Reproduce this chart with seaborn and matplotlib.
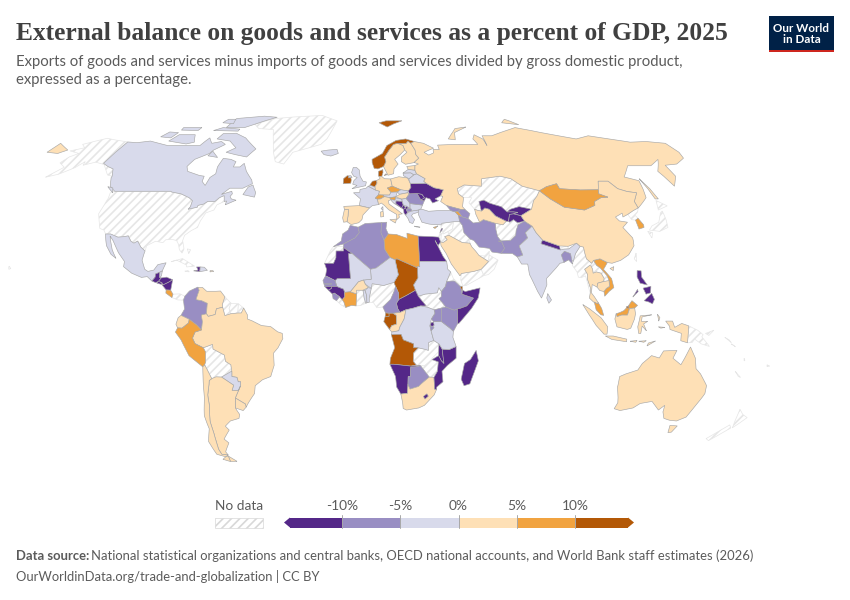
import numpy as np
import matplotlib
matplotlib.use("Agg")
import matplotlib.pyplot as plt
from matplotlib.patches import Polygon, Rectangle
import seaborn as sns

TITLE = "External balance on goods and services as a percent of GDP, 2025"
SUBTITLE = ["Exports of goods and services minus imports of goods and services divided by gross domestic product,",
            "expressed as a percentage."]
SOURCE_BOLD = "Data source:"
SOURCE = "National statistical organizations and central banks, OECD national accounts, and World Bank staff estimates (2026)"
FOOTER = "OurWorldinData.org/trade-and-globalization | CC BY"
BIN_HEX = ["#542788", "#998ec3", "#d8daeb", "#fee0b6", "#f1a340", "#b35806"]
TICK_LABELS = ["-10%", "-5%", "0%", "5%", "10%"]

# Robinson projection table: latitude, parallel length, parallel distance
ROB_LAT = [0, 5, 10, 15, 20, 25, 30, 35, 40, 45, 50, 55, 60, 65, 70, 75, 80, 85, 90]
ROB_PLEN = [1, .9986, .9954, .99, .9822, .973, .96, .9427, .9216, .8962, .8679, .835, .7986, .7597, .7186, .6732, .6213, .5722, .5322]
ROB_PDFE = [0, .062, .124, .186, .248, .31, .372, .434, .4958, .5571, .6176, .6769, .7346, .7903, .8435, .8936, .9394, .9761, 1]

# Value class of each country
CLASS_0 = ["Mauritania", "Guinea", "GuineaBissau", "Egypt", "CAR", "Somalia", "Mozambique", "Namibia", "Madagascar",
           "Lesotho", "Malawi", "Rwanda", "Guatemala", "Honduras", "ElSalvador", "Nicaragua", "Haiti", "Ukraine",
           "Moldova", "Bosnia", "Montenegro", "Albania", "Kosovo", "Lebanon", "Uzbekistan", "Kyrgyzstan", "Tajikistan",
           "Nepal", "Philippines"]
CLASS_1 = ["Morocco", "Algeria", "Tunisia", "Senegal", "Gambia", "SierraLeone", "Cameroon", "Ethiopia", "Uganda", "Kenya",
           "Burundi", "Botswana", "Colombia", "Romania", "NMacedonia", "Georgia", "Azerbaijan", "Iran", "Pakistan",
           "Bangladesh"]
CLASS_2 = ["Canada", "Mexico", "Belize", "DominicanRep", "Paraguay", "Mali", "Niger", "Sudan", "Togo", "Benin", "DRCongo",
           "Tanzania", "Iceland", "UK", "France", "Belgium", "Austria", "Slovakia", "Croatia", "Serbia", "Greece",
           "Bulgaria", "Belarus", "Lithuania", "Latvia", "Turkey", "India", "SriLanka"]
CLASS_3 = ["PuertoRico", "Venezuela", "Brazil", "Ecuador", "Uruguay", "Argentina", "Chile", "BurkinaFaso",
           "Congo", "SouthAfrica", "Sweden", "Finland", "Spain", "Portugal", "Germany", "Poland", "Italy", "Hungary",
           "Estonia", "Russia", "Saudi", "Turkmenistan", "China", "Thailand", "Cambodia", "Indonesia", "Australia"]
CLASS_4 = ["CostaRica", "Peru", "Libya", "CoteIvoire", "Czechia", "Switzerland", "Slovenia", "Cyprus", "Armenia",
           "Mongolia", "SouthKorea", "Vietnam", "Malaysia"]
CLASS_5 = ["Chad", "Gabon", "EqGuinea", "Angola", "Djibouti", "Norway", "Denmark", "Ireland", "Netherlands", "Brunei"]

NORTH_AMERICA = {
    "USA": [[(-124.7,48.4),(-123,49),(-95.2,49),(-94.6,48.7),(-89.6,48),(-84.8,46.5),(-82.5,45.3),(-82.4,43),(-83,42),(-79,42.8),(-79,43.5),(-76.5,44),(-75,45),(-71.5,45),(-70,46.5),(-68,47.3),(-67,45),(-70,43.7),(-70.7,41.7),(-74,40.6),(-75.5,37.5),(-76,35),(-78.5,33.8),(-81,32),(-81.3,30),(-80,26.8),(-80.5,25.2),(-82,26.5),(-82.8,28.5),(-84,30),(-86,30.4),(-89,30.3),(-90,29.2),(-93.5,29.7),(-97,28),(-97.2,26),(-99.5,27.5),(-101.5,29.8),(-103,29),(-104.5,29.7),(-106.5,31.8),(-108.2,31.5),(-111,31.3),(-114.8,32.5),(-117.1,32.5),(-118.5,34),(-120.6,34.6),(-122.5,37.5),(-124.3,40.3),(-124,44),(-124,46.3)],
            [(-141,69.6),(-141,60.3),(-137,59),(-133,58),(-130,55),(-133,55.5),(-137,58),(-140,59.8),(-146,60.8),(-151,59.5),(-152,61),(-154,58.5),(-159,55.8),(-164,54.6),(-160,58.7),(-165,60.5),(-164,63),(-161,64.5),(-168,65.6),(-162,67),(-166,68.5),(-156.5,71.3),(-150,70.5)],
            [(-156,20.2),(-155,19.3),(-155.8,19),(-156,19.8)]],
    "Canada": [[(-141,69.6),(-135,69.3),(-128,70),(-115,68),(-108,68),(-96,68),(-94,71.5),(-90,69),(-85,69.8),(-81.5,68.5),(-86,66),(-87,64.5),(-93,62),(-94.5,59),(-92.5,57),(-85,55.3),(-82.3,55),(-82,52.9),(-79.5,51.3),(-79,54.5),(-77,56),(-78,58.8),(-77.5,62.4),(-73,62),(-69.5,61),(-69.5,58.8),(-66,58.8),(-64.5,60.3),(-61.5,57),(-57,53.5),(-56,52),(-60,50.2),(-66.5,50.2),(-69.5,47.8),(-65,49),(-64.3,48),(-65,47),(-64,46),(-61.5,45.5),(-66,43.7),(-66,45.2),(-67,45),(-68,47.3),(-70,46.5),(-71.5,45),(-75,45),(-76.5,44),(-79,43.5),(-79,42.8),(-83,42),(-82.4,43),(-82.5,45.3),(-84.8,46.5),(-89.6,48),(-94.6,48.7),(-95.2,49),(-123,49),(-127,51),(-130,54.5),(-130,55),(-133,58),(-137,59),(-141,60.3)],
               [(-80,73.7),(-72,71.5),(-67,69),(-62,66.5),(-65,63),(-72,64),(-78,65),(-74,67),(-80,70),(-89,71),(-88,73.5)],
               [(-117,70),(-105,68.7),(-101,69.5),(-105,73),(-115,73)],
               [(-125,72),(-118,71.5),(-117,74),(-123,74.3)],
               [(-90,76.5),(-78,76.5),(-62,82.3),(-72,83),(-90,81.5)],
               [(-96,75),(-80,74.7),(-80,75.7),(-92,76.5)],
               [(-117,75.2),(-106,75),(-106,76.5),(-118,76.5)],
               [(-96,79),(-88,78.5),(-90,81),(-95,81)],
               [(-87,63.5),(-81,62.8),(-86,65.5)],
               [(-59,47.7),(-53,46.7),(-53,48.5),(-55.5,51.5),(-57.5,50.7)],
               [(-128,50.8),(-123.5,48.4),(-125,50.3)]],
    "Greenland": [[(-73,78.2),(-68,76),(-58,75.5),(-54,70),(-51,65),(-48,61),(-43,60),(-40,65),(-25,68.5),(-22,71),(-20,75),(-18,80),(-30,83.5),(-50,82.5),(-62,81.5),(-67,80)]],
    "Mexico": [[(-117.1,32.5),(-114.8,32.5),(-111,31.3),(-108.2,31.5),(-106.5,31.8),(-104.5,29.7),(-103,29),(-101.5,29.8),(-99.5,27.5),(-97.2,26),(-97.8,22.5),(-96,19),(-94.5,18.2),(-92,18.7),(-90.5,20.8),(-87,21.5),(-88.2,18.4),(-89.2,17.9),(-91,17.2),(-91,16),(-92.2,14.5),(-94.5,16.2),(-97,15.9),(-101.5,17.5),(-105.5,20),(-105.5,22),(-109,25.5),(-112.7,30),(-114.7,31.7),(-112,26.5),(-109.5,23.2),(-112,24.7),(-115,28)]],
    "Guatemala": [[(-92.2,14.5),(-91,16),(-91,17.2),(-89.2,17.9),(-89,15.9),(-88.3,15.7),(-89.3,14.4),(-90.5,13.9)]],
    "Belize": [[(-89.2,17.9),(-88.2,18.4),(-88.3,16.5),(-89,15.9)]],
    "ElSalvador": [[(-90,13.7),(-89.3,14.4),(-87.8,13.9),(-87.8,13.2)]],
    "Honduras": [[(-89.3,14.4),(-88.3,15.7),(-86,16),(-83.2,15),(-85,14),(-87.3,13),(-87.8,13.9)]],
    "Nicaragua": [[(-87.6,13),(-87.3,13),(-85,14),(-83.2,15),(-83.7,11),(-85.7,11.1)]],
    "CostaRica": [[(-85.7,11.1),(-83.7,11),(-82.6,9.5),(-83,8.2),(-85.7,9.9)]],
    "Panama": [[(-83,8.2),(-82.6,9.5),(-79.5,9.6),(-77.4,8.7),(-77.9,7.2),(-80.4,7.3),(-81.5,7.7)]],
    "Cuba": [[(-84.9,21.9),(-80,23.1),(-74.2,20.2),(-77.7,19.9),(-78,20.7),(-82.5,22.5)]],
    "Haiti": [[(-74.4,18.4),(-71.7,18.1),(-71.7,19.9),(-73.3,19.9),(-72.5,18.7)]],
    "DominicanRep": [[(-71.7,18.1),(-68.4,18.6),(-69.9,19.8),(-71.7,19.9)]],
    "Jamaica": [[(-78.3,18.3),(-76.3,18),(-76.9,18.5)]],
    "PuertoRico": [[(-67.2,18),(-65.6,18.2),(-66,18.5),(-67.2,18.5)]],
    "Bahamas": [[(-78.5,26.8),(-77,26.5),(-77.5,25)]],
}

SOUTH_AMERICA = {
    "Colombia": [[(-77.4,8.7),(-75.5,10.7),(-72,12.2),(-71.3,11),(-72.5,7.4),(-70,7),(-67.5,6),(-67.8,2),(-70,1.5),(-69.5,-1),(-70,-4.2),(-72,-2.3),(-75.2,-0.1),(-78.8,1.4),(-77.3,3.8),(-77.9,7.2)]],
    "Venezuela": [[(-71.3,11),(-71.9,12),(-70,12.1),(-68,10.6),(-64,10.6),(-62,10.7),(-60,8.5),(-61,5.5),(-60.8,4.5),(-63.5,3.9),(-64,1.7),(-67,1),(-67.8,2),(-67.5,6),(-70,7),(-72.5,7.4)]],
    "Guyana": [[(-60,8.5),(-57.2,6),(-58,4),(-57.3,2),(-59.8,1.3),(-60.8,4.5),(-61,5.5)]],
    "Suriname": [[(-57.2,6),(-54,5.8),(-54.2,2.3),(-57.3,2),(-58,4)]],
    "FrGuiana": [[(-54,5.8),(-51.7,4.2),(-52.7,2.3),(-54.2,2.3)]],
    "Brazil": [[(-51.7,4.2),(-50,1.5),(-50,0),(-48,-0.7),(-44,-2.5),(-40,-2.9),(-37,-4.9),(-35,-5.5),(-34.8,-7.5),(-37,-11),(-39,-13),(-39,-17.7),(-40.8,-22),(-44.5,-23.2),(-48,-25.5),(-48.7,-28.5),(-52,-32),(-53.4,-33.7),(-53.5,-32.5),(-57.6,-30.2),(-54.6,-25.6),(-54.3,-24),(-55.4,-24),(-55.8,-22.3),(-58,-22),(-57.8,-20),(-58,-17.5),(-60.2,-16.2),(-60.5,-13.8),(-65.3,-11.5),(-65.4,-9.7),(-69.5,-11),(-73,-9.4),(-74,-7.3),(-72.8,-5),(-70,-4.2),(-69.5,-1),(-70,1.5),(-67.8,2),(-67,1),(-64,1.7),(-63.5,3.9),(-60.8,4.5),(-59.8,1.3),(-57.3,2),(-54.2,2.3),(-52.7,2.3)]],
    "Ecuador": [[(-78.8,1.4),(-75.2,-0.1),(-75.5,-1.5),(-78.4,-3.5),(-80.3,-3.4),(-81,-2),(-80,0.5)]],
    "Peru": [[(-80.3,-3.4),(-78.4,-3.5),(-75.5,-1.5),(-75.2,-0.1),(-72,-2.3),(-70,-4.2),(-72.8,-5),(-74,-7.3),(-73,-9.4),(-69.5,-11),(-68.7,-12.5),(-69,-16.5),(-69.5,-17.5),(-70.4,-18.3),(-76,-14),(-79,-8),(-81.3,-5)]],
    "Bolivia": [[(-69.5,-11),(-65.4,-9.7),(-65.3,-11.5),(-60.5,-13.8),(-60.2,-16.2),(-58,-17.5),(-58,-20),(-62.6,-22.2),(-65,-22.1),(-67,-22.8),(-68.5,-19.5),(-69.5,-17.5),(-69,-16.5),(-68.7,-12.5)]],
    "Paraguay": [[(-58,-20),(-57.8,-20),(-58,-22),(-55.8,-22.3),(-55.4,-24),(-54.3,-24),(-54.6,-25.6),(-55.8,-27.4),(-58.6,-27.3),(-57.6,-25.3),(-62.6,-22.2)]],
    "Uruguay": [[(-57.6,-30.2),(-53.5,-32.5),(-53.4,-33.7),(-55,-35),(-58.4,-34)]],
    "Argentina": [[(-67,-22.8),(-65,-22.1),(-62.6,-22.2),(-57.6,-25.3),(-58.6,-27.3),(-55.8,-27.4),(-54.6,-25.6),(-57.6,-30.2),(-58.4,-34),(-57,-36.5),(-57.7,-38),(-62,-39),(-65,-41),(-63.7,-42.5),(-67.5,-46),(-65.8,-47.5),(-69,-51),(-68.4,-52.3),(-71.5,-52),(-72,-50),(-71.5,-44),(-71.5,-39),(-70,-33),(-69.8,-29),(-68.5,-25),(-68.2,-23.5)],
                  [(-68.6,-52.7),(-65.2,-54.8),(-68.6,-54.9)]],
    "Chile": [[(-69.5,-17.5),(-68.5,-19.5),(-67,-22.8),(-68.2,-23.5),(-68.5,-25),(-69.8,-29),(-70,-33),(-71.5,-39),(-71.5,-44),(-72,-50),(-71.5,-52),(-68.4,-52.3),(-70,-53),(-74,-52),(-75.5,-47),(-73,-42),(-73.5,-37),(-71.5,-30),(-70.4,-18.3)],
              [(-68.6,-52.7),(-68.6,-54.9),(-72,-54),(-70,-53)]],
}

AFRICA = {
    "Morocco": [[(-5.9,35.8),(-2.2,35.1),(-1.7,33),(-3.6,31),(-8.7,28.7),(-13.2,27.7),(-9.8,29.8),(-9.3,32.5),(-6.8,34)]],
    "WSahara": [[(-13.2,27.7),(-8.7,27.7),(-8.7,26),(-12,26),(-12,23.4),(-13,21.3),(-17,21.3),(-14.5,26.2)]],
    "Algeria": [[(-2.2,35.1),(1,36.5),(8.6,36.9),(8.2,33),(9.5,30.2),(9.8,26.5),(12,23.5),(5.8,19.5),(3.3,19),(-4.8,25),(-8.7,27.3),(-8.7,28.7),(-3.6,31),(-1.7,33)]],
    "Tunisia": [[(8.6,36.9),(11,37),(10.5,34.5),(11.5,32.5),(9.5,30.2),(8.2,33)]],
    "Libya": [[(11.5,32.5),(15.2,32.3),(20,30.8),(20,32.8),(25,31.7),(25,22),(25,20),(24,20),(24,19.5),(15,23),(14.2,22.6),(12,23.5),(9.8,26.5),(9.5,30.2)]],
    "Egypt": [[(25,31.7),(31,31.5),(34.3,31.3),(34.9,29.5),(33.6,28),(32.5,30),(35.5,24),(37,22),(25,22)]],
    "Sudan": [[(25,22),(37,22),(37.3,19),(38.5,18),(36.5,14.3),(36,12.5),(34.1,10.5),(33,12),(32.3,10),(27,9.5),(24,8.7),(22.8,11),(22,13),(24,15.7),(24,19.5),(24,20),(25,20)]],
    "SouthSudan": [[(24,8.7),(27,9.5),(32.3,10),(33,12),(34.1,10.5),(34,8.5),(33,7.8),(35.9,4.6),(34,4.2),(30.8,3.5),(28,4.5),(25,5),(27.4,5)]],
    "CAR": [[(14.5,6),(15.5,7.5),(18.8,9),(22.8,11),(24,8.7),(27.4,5),(25,5),(22,4.2),(18.6,3.5),(16,2.5),(15,4)]],
    "Chad": [[(15,23),(24,19.5),(24,15.7),(22,13),(22.8,11),(18.8,9),(15.5,7.5),(15.5,9.8),(14.2,12.5),(13.5,14),(15.5,16.9),(14.2,22.6)]],
    "Niger": [[(3.3,19),(5.8,19.5),(12,23.5),(14.2,22.6),(15.5,16.9),(13.5,14),(9,12.8),(4,13.5),(3.6,11.7),(1,13.3),(0.2,14.9),(3.6,15.2)]],
    "Mali": [[(-4.8,25),(3.3,19),(3.6,15.2),(0.2,14.9),(-2,14.2),(-5.5,10.4),(-8,10.2),(-8.5,11.4),(-11.4,12.4),(-12.2,14.7),(-11.2,15.5),(-5.5,15.5),(-6.5,25)]],
    "Mauritania": [[(-8.7,27.3),(-4.8,25),(-6.5,25),(-5.5,15.5),(-11.2,15.5),(-12.2,14.7),(-16.4,16.5),(-16,19),(-17,21.3),(-13,21.3),(-12,23.4),(-12,26),(-8.7,26)]],
    "Senegal": [[(-16.4,16.5),(-12.2,14.7),(-11.4,12.4),(-16.7,12.4),(-17.5,14.7)]],
    "Gambia": [[(-16.8,13.6),(-13.8,13.6),(-13.8,13.2),(-16.8,13.2)]],
    "GuineaBissau": [[(-16.7,12.4),(-13.7,12.4),(-13.7,11.7),(-15,11)]],
    "Guinea": [[(-13.7,12.4),(-11.4,12.4),(-8.5,11.4),(-8,10.2),(-7.9,8.5),(-9,7.4),(-10.2,8.5),(-12.5,9.9),(-13.3,9.5),(-15,11),(-13.7,11.7)]],
    "SierraLeone": [[(-13.3,9.5),(-12.5,9.9),(-10.2,8.5),(-11.5,7),(-13,7.8)]],
    "Liberia": [[(-11.5,7),(-10.2,8.5),(-9,7.4),(-8.3,6.5),(-7.5,4.4),(-9.5,5.4)]],
    "CoteIvoire": [[(-7.5,4.4),(-8.3,6.5),(-9,7.4),(-7.9,8.5),(-8,10.2),(-5.5,10.4),(-2.8,9.6),(-3,5),(-5,5.2)]],
    "BurkinaFaso": [[(-5.5,10.4),(-2,14.2),(0.2,14.9),(1,13.3),(2.3,12),(0,11),(-2.8,11),(-2.8,9.6)]],
    "Ghana": [[(-3,5),(-2.8,9.6),(-2.8,11),(0,11),(0.5,8),(1.2,6),(-1,5.2)]],
    "Togo": [[(0,11),(0.9,11),(1.6,9),(1.7,6.2),(1.2,6),(0.5,8)]],
    "Benin": [[(0.9,11),(2.3,12),(3.6,11.7),(2.7,8),(2.7,6.4),(1.7,6.2),(1.6,9)]],
    "Nigeria": [[(3.6,11.7),(4,13.5),(9,12.8),(13.5,14),(14.2,12.5),(13.5,10.5),(12,7.5),(8.6,4.6),(6,4.3),(4.5,6.3),(2.7,6.4),(2.7,8)]],
    "Cameroon": [[(8.6,4.6),(12,7.5),(13.5,10.5),(14.2,12.5),(15.5,9.8),(15.5,7.5),(14.5,6),(15,4),(16,2.5),(13,2.2),(9.8,2.3)]],
    "EqGuinea": [[(9.8,2.3),(11.3,2.2),(11.3,1),(9.6,1)]],
    "Gabon": [[(9.6,1),(11.3,1),(11.3,2.2),(13,2.2),(14.4,1.4),(14.5,-2),(12.5,-2.5),(11.5,-4),(9,-1)]],
    "Congo": [[(11.5,-4),(12.5,-2.5),(14.5,-2),(14.4,1.4),(13,2.2),(16,2.5),(18.6,3.5),(17.8,0),(16,-3),(15.5,-4.5),(12.5,-5)]],
    "DRCongo": [[(12.3,-6),(12.5,-5),(15.5,-4.5),(16,-3),(17.8,0),(18.6,3.5),(22,4.2),(25,5),(28,4.5),(30.8,3.5),(31.2,2.2),(29.6,0),(29,-2.5),(29.5,-4.5),(30.7,-8.2),(28.5,-9),(28.5,-12),(27,-11.6),(24,-11),(22,-11),(22,-9.5),(17.5,-8),(16.5,-5.9)]],
    "Angola": [[(12.3,-6),(16.5,-5.9),(17.5,-8),(22,-9.5),(22,-11),(24,-11),(22,-13),(22,-16.2),(23.4,-17.6),(21,-18),(13.5,-17.3),(11.8,-17.3),(12,-15),(13.8,-11),(13.2,-9)]],
    "Namibia": [[(11.8,-17.3),(13.5,-17.3),(21,-18),(25,-17.8),(23.4,-18.3),(21,-18.4),(21,-22),(20,-22),(20,-28.4),(17,-28.7),(15,-26),(14.4,-22)]],
    "Botswana": [[(20,-22),(21,-22),(21,-18.4),(23.4,-18.3),(25.2,-17.8),(29.3,-22.2),(26,-24.7),(24.7,-25.8),(21,-26.8),(20,-25)]],
    "SouthAfrica": [[(17,-28.7),(20,-28.4),(20,-25),(21,-26.8),(24.7,-25.8),(26,-24.7),(29.3,-22.2),(31.4,-22.3),(32,-26.8),(32.9,-26.9),(32,-29),(28,-33),(25.5,-34),(20,-34.8),(18.4,-34.2),(18,-32)]],
    "Lesotho": [[(27.2,-29.6),(28.7,-28.6),(29.4,-29.5),(28,-30.6)]],
    "Eswatini": [[(30.9,-25.7),(32,-26),(32,-27.2),(31,-27.3)]],
    "Zimbabwe": [[(25.2,-17.8),(27,-17.9),(30,-15.6),(33,-16.4),(32.8,-20),(31.4,-22.3),(29.3,-22.2)]],
    "Zambia": [[(22,-13),(24,-11),(27,-11.6),(28.5,-12),(28.5,-9),(30.7,-8.2),(33,-9.5),(33,-12.5),(30.2,-15),(30,-15.6),(27,-17.9),(25.2,-17.8),(23.4,-17.6),(22,-16.2)]],
    "Malawi": [[(33,-9.5),(34.5,-11.5),(35,-14.5),(35.5,-17),(34.3,-16),(33,-14),(33,-12.5)]],
    "Mozambique": [[(33,-14),(34.3,-16),(35.5,-17),(35,-14.5),(34.5,-11.5),(37.5,-11.7),(40.5,-10.5),(40.7,-15),(37,-17.8),(34.8,-20),(35.5,-24),(32.9,-26),(32.9,-26.9),(32,-26.8),(31.4,-22.3),(32.8,-20),(33,-16.4),(30.2,-15.5)]],
    "Tanzania": [[(30.7,-8.2),(29.5,-4.5),(30.5,-3),(30.5,-1),(34,-1),(37.7,-3.5),(39.2,-4.7),(39,-7),(40.5,-10.5),(37.5,-11.7),(34.5,-11.5),(33,-9.5)]],
    "Kenya": [[(34,4.2),(35.9,4.6),(39.5,3.4),(41,3.9),(41,-1.7),(39.2,-4.7),(37.7,-3.5),(34,-1)]],
    "Uganda": [[(31.2,2.2),(30.8,3.5),(34,4.2),(34,-1),(30.5,-1),(29.6,0)]],
    "Rwanda": [[(29,-2.5),(29.6,-1.3),(30.5,-1.2),(30.8,-2.4),(30,-2.8)]],
    "Burundi": [[(29,-2.7),(30,-2.8),(30.8,-3.3),(29.5,-4.5)]],
    "Ethiopia": [[(36.5,14.3),(38.5,14.5),(40,14.5),(42.3,12.5),(43,11),(43,9.5),(48,8),(45,5),(41.9,4),(41,3.9),(39.5,3.4),(35.9,4.6),(33,7.8),(34,8.5),(34.1,10.5),(36,12.5)]],
    "Eritrea": [[(38.5,18),(39.5,15.5),(43,12.5),(42.3,12.5),(40,14.5),(38.5,14.5),(36.5,14.3)]],
    "Djibouti": [[(42.3,12.5),(43.3,12.4),(43.3,11),(43,11)]],
    "Somalia": [[(43.3,11),(44.5,10.5),(51,11.9),(50,8),(47,4),(41.5,-1.7),(41,-1.7),(41,3.9),(41.9,4),(45,5),(48,8),(43,9.5)]],
    "Madagascar": [[(49.3,-12),(50.5,-16),(47.5,-24.8),(45,-25.5),(43.5,-23),(44.5,-17),(47,-15.5)]],
}

EUROPE = {
    "Finland": [[(20.5,69),(25.7,69),(27,70),(28.5,69),(30,66),(29.8,64),(31,62.5),(27.8,60.6),(23,59.9),(21,61),(21.5,63),(25,65),(24,66),(23.5,68)]],
    "Sweden": [[(11,59),(13,55.4),(16,56),(16.5,58),(19,60),(17.5,62),(21,64),(24,66),(23.5,68),(20.5,69),(18,68.5),(15,66),(12,63),(12.5,61)]],
    "Norway": [[(5,60.5),(6,58.2),(8,58),(11,59),(12.5,61),(12,63),(15,66),(18,68.5),(20.5,69),(25.7,69),(27,70),(28.5,69),(30.8,69.8),(26,71),(20,70.3),(14,68),(11,64.5),(5,62)],
               [(11,79),(16,76.8),(21,78.5),(27,80),(16,80)]],
    "Iceland": [[(-24,65.5),(-22,64),(-18,63.4),(-14,64.5),(-15,66.3),(-20,66)]],
    "Denmark": [[(8,55),(9.7,54.9),(10.5,56.5),(10.5,57.7),(8.2,57)],[(11,55.3),(12.6,55.6),(12,56)]],
    "Ireland": [[(-10,52),(-6.2,52.2),(-6,53.5),(-6.5,55),(-8.2,55.2),(-10,54)]],
    "UK": [[(-5.5,50),(1.3,51.2),(1.7,52.7),(0,53),(-1.5,55),(-2,57.6),(-3.5,58.6),(-5.2,58.6),(-6,56.5),(-4.8,55),(-3,54.5),(-4.6,53.3),(-5.2,51.8),(-3,51.3)],
           [(-7.5,54.3),(-5.6,54.5),(-6.3,55.2),(-7.4,55.1)]],
    "France": [[(-1.8,43.4),(3.1,42.5),(4.5,43.4),(7.5,43.8),(7,45.9),(6,46.3),(7.6,47.6),(8.2,49),(6.2,49.5),(2.6,51),(1.5,50.2),(-1.5,49.7),(-1.6,48.6),(-4.7,48.4),(-1.2,46)],
               [(8.6,42.3),(9.5,41.5),(9.5,43)]],
    "Spain": [[(-9.2,43.1),(-1.8,43.4),(3.1,42.5),(0,39.8),(-0.5,38),(-2,36.8),(-5.5,36.1),(-7.4,37.2),(-7,39.5),(-6.9,41.9),(-8.8,41.9)]],
    "Portugal": [[(-8.8,41.9),(-6.9,41.9),(-7,39.5),(-7.4,37.2),(-9,37),(-9.5,38.7)]],
    "Belgium": [[(2.6,51),(4.3,51.4),(6,50.8),(6.2,49.5)]],
    "Netherlands": [[(3.4,51.4),(6,50.8),(7.1,52.2),(7,53.3),(4.8,53)]],
    "Germany": [[(6,50.8),(7.1,52.2),(7,53.3),(8.7,54),(8.6,54.9),(9.7,54.9),(11,54),(14.2,53.9),(14.7,51),(12.2,50.3),(13.8,48.6),(13,47.5),(7.6,47.6),(8.2,49),(6.2,49.5)]],
    "Poland": [[(14.2,53.9),(18.5,54.8),(23,54.3),(24,52),(24,50.5),(22.5,49.1),(19,49.5),(14.7,51)]],
    "Czechia": [[(12.2,50.3),(14.7,51),(18.8,49.6),(17,48.7),(13.8,48.6)]],
    "Slovakia": [[(17,48.7),(18.8,49.6),(22.5,49.1),(22,48.4),(18,47.8)]],
    "Austria": [[(9.6,47.5),(13,47.5),(13.8,48.6),(17,48.7),(16,46.8),(13,46.5),(10.5,46.9)]],
    "Switzerland": [[(6,46.3),(7.6,47.6),(9.6,47.5),(10.5,46.9),(8.5,46),(7,45.9)]],
    "Italy": [[(7,45.9),(8.5,46),(10.5,46.9),(13,46.5),(13.7,45.7),(12.3,45.3),(12.5,44),(16,41.9),(18.5,40.2),(16.8,40),(17,38.9),(15.7,38),(15.8,40),(12.2,41.8),(10.2,43.5),(8.8,44.4),(7.5,43.8)],
              [(12.5,38),(15.6,38.2),(15,36.7)],[(8.3,39),(9.7,39.2),(9.5,41.2),(8.2,40.9)]],
    "Slovenia": [[(13.7,45.7),(13,46.5),(16,46.8),(15.5,45.5)]],
    "Hungary": [[(16,46.8),(18,47.8),(22,48.4),(22.8,48),(21,46.2),(18.8,45.9)]],
    "Croatia": [[(13.7,45.7),(15.5,45.5),(16,46.4),(18.8,45.9),(19,45),(16,45.2),(15.8,44.2),(18.4,42.5),(15,44.2),(14,45)]],
    "Bosnia": [[(16,45.2),(19,45),(19.3,43.6),(18.4,42.5),(15.8,44.2)]],
    "Serbia": [[(18.8,45.9),(21,46.2),(22.6,44.5),(22.4,42.3),(20.8,43.2),(19.3,43.6),(19,45)]],
    "Montenegro": [[(18.4,42.5),(19.3,43.6),(20.3,42.8),(19.3,41.9)]],
    "Kosovo": [[(20.1,42.6),(20.8,43.2),(21.7,42.4),(20.6,41.9)]],
    "Albania": [[(19.3,41.9),(20.1,42.6),(20.6,41.9),(21,40.6),(20,39.7),(19.3,40.5)]],
    "NMacedonia": [[(20.6,41.9),(21.7,42.4),(23,42),(22.8,41.3),(21,40.9)]],
    "Greece": [[(20,39.7),(21,40.6),(22.8,41.3),(26.3,41.7),(26,40.8),(23.5,40.2),(22.7,39.5),(24,38),(23,36.5),(21.6,36.9),(21,38.4)],
               [(23.6,35.5),(26.2,35.1),(24.5,35.2)]],
    "Bulgaria": [[(22.6,44.2),(28.5,43.6),(27.6,42.2),(26.3,41.7),(22.8,41.3),(23,42),(22.4,42.3)]],
    "Romania": [[(22.8,48),(26.6,48.2),(28.1,45.6),(29.6,45.2),(28.5,43.6),(22.6,44.2),(21,46.2)]],
    "Moldova": [[(26.6,48.2),(29,47.8),(30,46.4),(28.1,45.5)]],
    "Ukraine": [[(24,50.5),(24,52),(32,52.2),(35.5,50.4),(40,49.6),(38,47.2),(35,46),(36.5,45.3),(33.5,44.4),(32.5,46),(30.7,46.5),(29.6,45.2),(28.1,45.6),(30,46.4),(29,47.8),(26.6,48.2),(22.8,48),(22.5,49.1)]],
    "Belarus": [[(24,52),(23.5,53.9),(26.5,55.6),(28,56),(32,54),(31,53),(32,52.2)]],
    "Lithuania": [[(21,55.2),(21,56.3),(25,56.4),(26.5,55.6),(23.5,53.9),(23,54.3)]],
    "Latvia": [[(21,56.3),(24,57.8),(27.5,57.5),(28,56),(26.5,55.6),(25,56.4)]],
    "Estonia": [[(24,57.8),(23.5,59),(28,59.4),(27.5,57.5)]],
    "Cyprus": [[(32.3,35),(34.5,35.6),(33,34.6)]],
}

ASIA = {
    "Russia": [[(30,60),(28.5,60.5),(27.8,60.6),(31,62.5),(29.8,64),(30,66),(28.5,69),(30.8,69.8),(36,69),(41,66.8),(38,66),(34.8,65),(37,63.8),(40,64.7),(40.5,66.3),(44,66.2),(44,68.2),(54,68.5),(60,68.5),(68,68.5),(67,71),(69.5,73),(73,71),(73,68),(74,72.5),(80,72.5),(87,74),(100,76.5),(113,74),(130,71),(140,72.5),(160,69.5),(170,69.8),(180,69),(180,65),(178,62.5),(170,60),(163,59.5),(162,55),(156.5,51),(155.5,57),(163,62),(155,59.3),(142.5,59.3),(135,54.7),(141,53.2),(138,46.5),(132,43),(131,42.5),(131,45),(135,48.4),(130.7,48.9),(127,50),(125,53),(120,53),(117,49.6),(108,49.5),(98,50),(98,52),(92,50.8),(87.5,49.2),(80,51),(76,54),(71,55),(61,54),(59.5,51),(51,51.5),(47,50),(47,48),(49,46.5),(47.5,43),(48.5,41.8),(46.5,41.9),(40,43.4),(37.5,45),(39,47),(38,47.2),(40,49.6),(35.5,50.4),(32,52.2),(31,53),(32,54),(28,56),(27.5,57.5),(28,59.4)],
               [(-180,69),(-170,66),(-173,64.5),(-180,65)],
               [(142,54),(143,50),(143.5,46),(142,46),(142,50)],
               [(52,71),(56,70.6),(58,74),(68,76.8),(60,76),(55,73)],
               [(95,79),(105,78),(100,81)]],
    "Turkey": [[(26,40),(26.3,41.7),(28,42),(31,41.2),(36,41.5),(41.5,41.5),(43.5,41),(44.8,39.6),(44.8,37.2),(42,37.2),(36.5,36.6),(36,36),(32.5,36.1),(30.5,36.3),(27.3,37)]],
    "Georgia": [[(40,43.4),(46.5,41.9),(45,41.2),(43.5,41),(41.5,41.5)]],
    "Armenia": [[(43.5,41),(45,41.2),(46.5,39),(44.8,39.6)]],
    "Azerbaijan": [[(45,41.2),(46.5,41.9),(48.5,41.8),(50.3,40.3),(49,38.4),(46.5,39)]],
    "Syria": [[(36,36),(36.5,36.6),(42,37.2),(41,34.4),(38.8,33.4),(36.5,32.5),(35.8,35)]],
    "Lebanon": [[(35.1,33.1),(36,33.8),(36.5,34.6),(35.9,34.5)]],
    "Israel": [[(34.3,31.3),(35,33.1),(35.7,32.7),(35,29.5)]],
    "Jordan": [[(35,29.5),(35.7,32.7),(36.5,32.5),(38.8,33.4),(39,32),(37,31.5),(38,30.3),(36,29.2)]],
    "Iraq": [[(42,37.2),(44.8,37.2),(45.8,35.8),(46,33),(48.5,30.5),(47.7,30),(46.5,29.1),(44.7,29.2),(39,32),(38.8,33.4),(41,34.4)]],
    "Saudi": [[(34.9,29.5),(36,29.2),(38,30.3),(37,31.5),(39,32),(44.7,29.2),(46.5,29.1),(48,29),(48.8,27.5),(50.2,26),(51.5,24.3),(55.5,22),(52,19),(48.7,18.2),(43.2,17.4),(42.5,16.5),(39,21),(37,25),(35,28)]],
    "Yemen": [[(43.2,17.4),(48.7,18.2),(52,19),(53,16.6),(45,12.8),(43.5,12.7),(42.7,15)]],
    "Oman": [[(52,19),(55.5,22),(56,24.5),(59.8,22.5),(57.7,19),(55,17),(53,16.6)]],
    "UAE": [[(51.5,24.3),(54,24.1),(56.3,25.9),(56,24.5),(55.5,22)]],
    "Kuwait": [[(46.5,29.1),(47.7,30),(48.4,28.6),(48,29)]],
    "Iran": [[(44.8,39.6),(46.5,39),(49,38.4),(51,36.7),(54,37),(56,38),(61.2,36.6),(60.8,34.4),(61,31.5),(62.5,29.4),(63.3,27),(61.5,25.1),(57.5,25.6),(56.5,27),(52,27.5),(50,30),(48.5,30.5),(46,33),(45.8,35.8),(44.8,37.2)]],
    "Turkmenistan": [[(53,42),(54.5,41.5),(56,41.3),(58,42.5),(60,42),(62,39.5),(66.5,37.4),(64.5,36),(61.2,36.6),(56,38),(54,37),(53,40)]],
    "Uzbekistan": [[(56,45),(58.5,45.5),(61,44.3),(64,43.5),(66,43),(68,41),(71,41),(73,40.8),(70.8,40.2),(68.8,40),(67.5,37.3),(66.5,37.4),(62,39.5),(60,42),(58,42.5),(56,41.3)]],
    "Kazakhstan": [[(47,50),(51,51.5),(59.5,51),(61,54),(71,55),(76,54),(80,51),(87.5,49.2),(85,47),(82.5,45.3),(80,42),(74.5,43),(70,42),(68,41),(66,43),(64,43.5),(61,44.3),(58.5,45.5),(56,45),(56,41.3),(54.5,41.5),(53,42),(51,44.5),(53,46.5),(49,46.5),(47,48)]],
    "Kyrgyzstan": [[(70,42),(74.5,43),(80,42),(74,39.5),(70.8,40.2),(73,40.8),(71,41),(68,41)]],
    "Tajikistan": [[(67.5,37.3),(68.8,40),(70.8,40.2),(74,39.5),(75,37.4),(71.5,36.8),(70,38),(68,37)]],
    "Afghanistan": [[(60.8,34.4),(61.2,36.6),(64.5,36),(66.5,37.4),(67.5,37.3),(68,37),(70,38),(71.5,36.8),(75,37.4),(71.5,36),(70,33.8),(69.3,31.9),(66.5,30),(61,29.8),(61,31.5)]],
    "Pakistan": [[(63.3,27),(62.5,29.4),(61,29.8),(66.5,30),(69.3,31.9),(70,33.8),(71.5,36),(75,37.4),(77.8,35.5),(74,33),(74.5,31),(70,28),(71,24.4),(68.5,23.7),(66.5,25),(61.5,25.1)]],
    "India": [[(74,33),(77.8,35.5),(78.9,33),(81,30.2),(80,28.8),(88.1,26.4),(89.8,26.7),(92,26.8),(96,29),(97.3,27.8),(94.5,25),(93,22),(91.5,23),(88.8,21.6),(87,21.3),(85,19.5),(80.3,15.5),(80.2,13),(77.5,8),(76,10.5),(73,17),(72.7,21),(70,21),(68.5,23.7),(71,24.4),(70,28),(74.5,31)]],
    "Bangladesh": [[(88.1,24.5),(89.8,25.9),(92.3,25),(92.5,21),(91,22.6),(88.8,21.7)]],
    "Nepal": [[(80,28.8),(81,30.2),(88.1,27.9),(88.1,26.4)]],
    "Bhutan": [[(88.8,27.3),(91.5,28),(92,26.9),(89,26.7)]],
    "Myanmar": [[(92.3,20.5),(94,18),(94.3,16),(95.5,15.8),(97.5,16.5),(98.5,11),(98.8,10),(99.2,11.5),(98.2,15),(98.5,17),(97.5,19),(100,20.5),(101,21.3),(99,23),(98.7,25),(98.7,27.5),(97.3,27.8),(94.5,25),(93,22)]],
    "Thailand": [[(98.2,15),(99.2,11.5),(98.8,10),(98.3,8),(100,6.5),(101.7,5.8),(102,6.3),(100.5,8.5),(99.3,10),(100,13.2),(102,12.2),(102.5,13.7),(105,14.3),(105.5,15.5),(104.5,17.5),(102.5,18),(101,17.5),(101,19),(100.5,20.3),(100,20.5),(97.5,19),(98.5,17)]],
    "Laos": [[(100.5,20.3),(102,22.4),(103,20.5),(104.5,19.5),(107,16.5),(107.5,14.7),(105.5,14.3),(105.5,15.5),(104.5,17.5),(102.5,18),(101,17.5),(101,19)]],
    "Vietnam": [[(102,22.4),(105,23),(108,21.6),(105.8,19),(108.7,15.5),(109.3,12),(107,10.5),(105,8.7),(104.8,10.5),(106,11.7),(107.5,12.5),(107.5,14.7),(107,16.5),(104.5,19.5),(103,20.5)]],
    "Cambodia": [[(102.5,13.7),(102,12.2),(103,10.9),(104.8,10.5),(106,11.7),(107.5,12.5),(107.5,14.7),(105,14.3)]],
    "Malaysia": [[(100.3,6.5),(101.7,5.8),(102,6.3),(103.4,4),(104.2,1.4),(103,1.6),(101,3.5)],
                 [(109.6,2),(111.3,2.5),(113,3.2),(115,5),(116.7,7),(119,5.2),(117.7,4.2),(115.5,4),(114.5,1.5),(112,1.5),(110,0.9)]],
    "Brunei": [[(114,4.6),(115.3,5),(115,4)]],
    "Indonesia": [[(95.3,5.5),(98,4),(103,0.5),(106,-3),(105.8,-5.8),(104.5,-5.8),(101,-2.5),(98,1.5)],
                  [(105.2,-6.5),(108.5,-6.5),(114.5,-7.7),(114.5,-8.7),(108,-7.8)],
                  [(109.6,2),(110,0.9),(112,1.5),(114.5,1.5),(115.5,4),(117.7,4.2),(118,2),(117.5,0),(116,-3.5),(114.5,-4),(110,-3),(109,0)],
                  [(119.5,-5.5),(120.4,-5.5),(120.9,-2.7),(122.8,-4.5),(121.5,-1.9),(123.2,-0.9),(120.5,-0.9),(120.8,0.8),(125,1.6),(120,1.2),(119,-3)],
                  [(131,-0.8),(134,-0.8),(135,-3.2),(138,-1.7),(141,-2.6),(141,-9.1),(138,-8.3),(138,-5.5),(133,-4),(132.8,-2.8)],
                  [(123.5,-10.3),(127,-8.4),(124,-9.2)],[(119.8,-8.5),(123,-8.3),(122,-8.9)],[(116,-8.5),(119,-8.2),(118.5,-8.9)],
                  [(127.5,1.8),(128.5,0.5),(128,-0.8)],[(128,-3),(130.8,-3.2),(129,-3.5)]],
    "Philippines": [[(120.5,18.5),(122.2,18.4),(122,16),(124,13),(121,13.7),(120,16)],
                    [(122,7),(125.5,9.8),(126.5,7.5),(125.5,5.8),(124,6.5)],
                    [(122,11.8),(125.5,12.5),(125,10),(123,9.5)],
                    [(117.2,8.4),(119.5,11.3),(119.7,10.5)]],
    "China": [[(74,39.5),(80,42),(82.5,45.3),(85,47),(87.5,49.2),(91,46),(96,42.8),(105,41.7),(111,43.5),(111.8,45),(116,46.5),(119.5,46.7),(116,48),(117,49.6),(120,53),(125,53),(127,50),(130.7,48.9),(135,48.4),(131,45),(131,42.5),(128,41.5),(124.3,40),(121.5,39),(122,40.5),(118,39),(119,37.5),(122.5,37),(119.3,35),(122,31),(121.5,28),(118,24.5),(114,22.4),(110,21.3),(108,21.6),(105,23),(102,22.4),(101,21.3),(99,23),(98.7,25),(98.7,27.5),(97.3,27.8),(96,29),(92,27.8),(88.8,27.9),(88.1,27.9),(81,30.2),(78.9,33),(77.8,35.5),(75,37.4)],
              [(108.7,19.3),(110.5,20),(110,18.5)]],
    "Taiwan": [[(120.2,23),(121.5,25.2),(121,22)]],
    "Mongolia": [[(87.5,49.2),(92,50.8),(98,52),(98,50),(108,49.5),(117,49.6),(116,48),(119.5,46.7),(116,46.5),(111.8,45),(111,43.5),(105,41.7),(96,42.8),(91,46)]],
    "NorthKorea": [[(124.3,40),(128,41.5),(131,42.5),(129.7,41),(127.5,39.7),(128.3,38.5),(126.7,37.8),(125,38)]],
    "SouthKorea": [[(126.7,37.8),(128.3,38.5),(129.4,36),(129,35),(126.4,34.4)]],
    "Japan": [[(131,34),(135.5,33.5),(140,35),(141,38),(141.5,41.3),(140,40.5),(137,37),(133,35.6)],
              [(140,41.7),(145.5,43.3),(141.8,45.4)],[(130,33.5),(132,33),(130.7,31)]],
    "SriLanka": [[(79.8,8),(80.3,9.7),(81.8,7.3),(80.6,6)]],
}

OCEANIA = {
    "Australia": [[(113.5,-22),(116,-21),(121,-19.5),(122.5,-17),(126,-14),(129.5,-14.9),(131,-12.2),(136.8,-12),(135.5,-15),(139.5,-17.5),(141.5,-13),(142.5,-10.7),(145.3,-15),(146.5,-19),(149,-21),(153,-25.5),(153.5,-28.5),(150.8,-35),(150,-37.5),(146.5,-39),(143,-38.7),(140,-38),(138,-35.5),(137.5,-33),(135.5,-34.8),(131,-31.5),(126,-32.3),(123.5,-34),(118,-35),(115,-34.3),(115.7,-32),(113.5,-26)],
                  [(144.7,-40.7),(148.3,-40.9),(147.5,-43.3),(146,-43.5)]],
    "NewZealand": [[(172.7,-34.5),(175.5,-36.5),(178.5,-37.7),(175,-41.6),(174,-39.5)],
                   [(172.7,-40.5),(174.3,-41.7),(171,-44.5),(168.5,-46.6),(166.5,-45.8)]],
    "PNG": [[(141,-2.6),(145,-4.3),(147.5,-6),(147,-6.8),(150.7,-10.5),(147,-9.5),(144,-7.7),(143,-9),(141,-9.1)],
            [(148.5,-5.5),(152,-4.3),(150,-6.3)]],
    "Solomon": [[(157,-7),(160,-9),(159,-8)],[(160,-9.5),(162,-10.6),(161,-10)]],
    "Vanuatu": [[(166.6,-15),(167.2,-16),(166.8,-15.9)]],
    "NewCaledonia": [[(164,-20),(167,-22.3),(166,-22)]],
    "Fiji": [[(177.3,-17.5),(178.6,-18),(177.5,-18.2)]],
}

# Theme and figure
sns.set_theme(style="white")
plt.rcParams["hatch.linewidth"] = 1.2
palette = sns.color_palette(BIN_HEX)
fig = plt.figure(figsize=(8.5, 6), dpi=100, facecolor="white")
ax = fig.add_axes([0, 0, 1, 1])
ax.set_xlim(0, 850)
ax.set_ylim(600, 0)
ax.axis("off")

MAP_X0, MAP_Y0, MAP_R = 363.0, 319.0, 156.0


def project(ring):
    pts = np.array(ring + ring[:1], dtype=float)
    t = np.arange(len(pts))
    fine = np.linspace(0, len(pts) - 1, (len(pts) - 1) * 6 + 1)
    lon = np.interp(fine, t, pts[:, 0])
    lat = np.interp(fine, t, pts[:, 1])
    plen = np.interp(np.abs(lat), ROB_LAT, ROB_PLEN)
    pdfe = np.interp(np.abs(lat), ROB_LAT, ROB_PDFE)
    x = MAP_X0 + 0.8487 * MAP_R * plen * np.radians(lon)
    y = MAP_Y0 - 1.3523 * MAP_R * pdfe * np.sign(lat)
    return np.column_stack([x, y])


classes = [CLASS_0, CLASS_1, CLASS_2, CLASS_3, CLASS_4, CLASS_5]
class_of = {name: i for i, group in enumerate(classes) for name in group}

regions = [NORTH_AMERICA, SOUTH_AMERICA, AFRICA, EUROPE, ASIA, OCEANIA]
for region in regions:
    for name, rings in region.items():
        if name not in class_of:
            for ring in rings:
                ax.add_patch(Polygon(project(ring), closed=True, facecolor="white", edgecolor="#e6e6e6",
                                     hatch="////", linewidth=0.5, zorder=1))
for region in regions:
    for name, rings in region.items():
        if name in class_of:
            for ring in rings:
                ax.add_patch(Polygon(project(ring), closed=True, facecolor=palette[class_of[name]],
                                     edgecolor="#a8a8a8", linewidth=0.45, zorder=2))

# Title block
TEXT_GREY = "#5b5b5b"
ax.text(16, 40, TITLE, family="Liberation Serif", weight="bold", fontsize=18.35, color="#404040", va="baseline")
for i, line in enumerate(SUBTITLE):
    ax.text(16, 66 + i * 18, line, family="Lato", fontsize=10.75, color=TEXT_GREY, va="baseline")

# Logo
ax.add_patch(Rectangle((769, 16), 65, 36, facecolor="#002147", edgecolor="none", zorder=3))
ax.add_patch(Rectangle((769, 49.5), 65, 2.5, facecolor="#ce261e", edgecolor="none", zorder=4))
ax.text(801.5, 43, "Our World\nin Data", family="Lato", weight="bold", fontsize=8.4, color="white",
        ha="center", va="baseline", linespacing=1.0, zorder=5)

# Legend
LEG_TOP, LEG_BOT = 517.5, 527.5
LEG_EDGES = [341.7, 400.2, 458.6, 517.1, 575.5]
seg_left = [290] + LEG_EDGES
seg_right = LEG_EDGES + [628]
for i in range(6):
    ax.add_patch(Rectangle((seg_left[i], LEG_TOP), seg_right[i] - seg_left[i], LEG_BOT - LEG_TOP,
                           facecolor=palette[i], edgecolor="none", zorder=3))
ax.add_patch(Polygon([(290, LEG_TOP), (284, (LEG_TOP + LEG_BOT) / 2), (290, LEG_BOT)], closed=True,
                     facecolor=palette[0], edgecolor="none", zorder=3))
ax.add_patch(Polygon([(628, LEG_TOP), (634, (LEG_TOP + LEG_BOT) / 2), (628, LEG_BOT)], closed=True,
                     facecolor=palette[5], edgecolor="none", zorder=3))
for x, lab in zip(LEG_EDGES, TICK_LABELS):
    ax.plot([x, x], [514.5, LEG_BOT], color="#a8a8a8", lw=0.7, zorder=4)
    ax.text(x, 510, lab, family="Lato", fontsize=9.9, color=TEXT_GREY, ha="center", va="baseline")
ax.text(239.5, 510, "No data", family="Lato", fontsize=9.8, color=TEXT_GREY, ha="center", va="baseline")
ax.add_patch(Rectangle((215.5, 517.5), 48, 10.5, facecolor="white", edgecolor="#d8d8d8", hatch="////", linewidth=0.5, zorder=3))

# Footer
ax.text(16, 560, SOURCE_BOLD, family="Lato", weight="bold", fontsize=9.4, color=TEXT_GREY, va="baseline")
ax.text(91, 560, SOURCE, family="Lato", fontsize=9.4, color=TEXT_GREY, va="baseline")
ax.text(16, 581, FOOTER, family="Lato", fontsize=9.4, color=TEXT_GREY, va="baseline")

fig.savefig("out.png", dpi=100, facecolor="white")
